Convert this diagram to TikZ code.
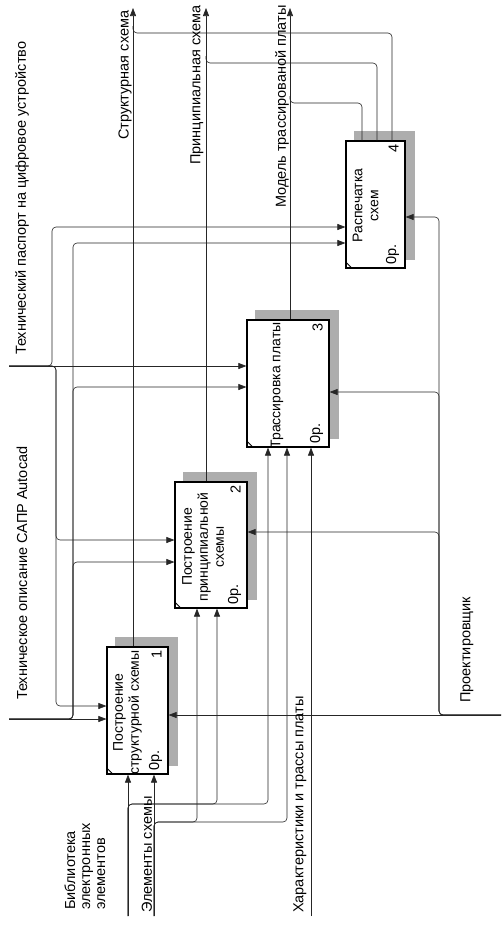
\documentclass[tikz,border=0pt]{standalone}
\usepackage{fontspec}
\setmainfont{Liberation Sans}
\usetikzlibrary{arrows.meta,backgrounds}

\tikzset{
  actbox/.style={draw, line width=1.2pt, fill=white, inner sep=0pt},
  shadowfill/.style={fill=black!32},
  flow/.style={line width=0.6pt, black!85, rounded corners=4pt},
  arr/.style={-{Triangle[length=8pt,width=6pt]}},
  lbl/.style={rotate=90, inner sep=0pt, font=\fontsize{14.5}{15}\selectfont, align=left},
  boxtxt/.style={rotate=90, inner sep=0pt, font=\fontsize{14}{16}\selectfont, align=center}
}

\begin{document}
\begin{tikzpicture}[x=1pt, y=-1pt]
\useasboundingbox (0,0) rectangle (501,926);

% activity boxes
\node[actbox, minimum width=61pt, minimum height=127pt] (b1) at (137.5,710.5) {};
\node[actbox, minimum width=72pt, minimum height=126pt] (b2) at (211,545) {};
\node[actbox, minimum width=82pt, minimum height=127pt] (b3) at (288,383.5) {};
\node[actbox, minimum width=59pt, minimum height=127pt] (b4) at (375.5,204.5) {};

\begin{scope}[on background layer]
  \fill[white] (0,0) rectangle (501,926);
  \foreach \b in {b1,b2,b3,b4}
    \fill[shadowfill] ([shift={(9,-9)}]\b.south west) rectangle ([shift={(9,-9)}]\b.north east);
\end{scope}

\foreach \b/\n in {b1/1,b2/2,b3/3,b4/4} {
  \draw[line width=0.8pt] ([yshift=7pt]\b.south west) -- ([xshift=7pt]\b.south west);
  \node[lbl, anchor=west] at ([shift={(-13,-4)}]\b.south east) {0р.};
  \node[lbl, anchor=east] at ([shift={(-12,4)}]\b.north east) {\n};
}

\node[boxtxt] at ([shift={(-10,2)}]b1.center) {Построение\\структурной схемы};
\node[boxtxt] at ([shift={(-8,2)}]b2.center) {Построение\\принципиальной\\схемы};
\node[boxtxt] at ([shift={(-11,2)}]b3.center) {Трассировка платы};
\node[boxtxt] at ([shift={(-10,1)}]b4.center) {Распечатка\\схем};

% sources and branch points
\coordinate (lib) at (128,916);
\coordinate (elem) at (154,916);
\coordinate (chr) at (311,916);
\coordinate (libk) at (128,804);
\coordinate (elk) at (154,822);
\coordinate (pass) at (9,366);
\coordinate (passu) at (52,366);
\coordinate (passd) at (56,366);
\coordinate (desc) at (9,719);
\coordinate (desck) at (73,719);
\coordinate (mech) at (501,715);
\coordinate (mechk) at (439,715);
\coordinate (out1) at (133,8);
\coordinate (out2) at (206,8);
\coordinate (out3) at (290,8);

% inputs
\draw[flow,arr] (lib) -- (lib |- b1.south);
\draw[flow,arr] (lib) -- (libk) -| ([xshift=6pt]b2.south);
\draw[flow,arr] (lib) -- (libk) -| ([xshift=-20pt]b3.south);
\draw[flow,arr] (elem) -- (elem |- b1.south);
\draw[flow,arr] (elem) -- (elk) -| ([xshift=-14pt]b2.south);
\draw[flow,arr] (elem) -- (elk) -| ([xshift=-1pt]b3.south);
\draw[flow,arr] (chr) -- (chr |- b3.south);

% controls
\draw[flow,arr] (pass) -- (pass -| b3.west);
\draw[flow,arr] (pass) -- (passu) |- (b4.west |- 0,227);
\draw[flow,arr] (pass) -- (passd) |- (b2.west |- 0,540);
\draw[flow,arr] (pass) -- (passd) |- (b1.west |- 0,706);
\draw[flow,arr] (desc) -- (desc -| b1.west);
\draw[flow,arr] (desc) -- (desck) |- (b3.west |- 0,387);
\draw[flow,arr] (desc) -- (desck) |- (b2.west |- 0,562);
\draw[flow,arr] (desc) -- (desck) |- (b4.west |- 0,243);

% mechanisms
\draw[flow,arr] (mech) -- (mech -| b1.east);
\draw[flow,arr] (mech) -- (mechk) |- (b2.east |- 0,532);
\draw[flow,arr] (mech) -- (mechk) |- (b3.east |- 0,392);
\draw[flow,arr] (mech) -- (mechk) |- (b4.east |- 0,217);

% outputs
\draw[flow,arr] (out1 |- b1.north) -- (out1);
\draw[flow,arr] (out2 |- b2.north) -- (out2);
\draw[flow,arr] (out3 |- b3.north) -- (out3);
\draw[flow] (133,26) -- (133,33) -| (b4.north -| 392,0);
\draw[flow] (206,56) -- (206,63) -| (b4.north -| 377,0);
\draw[flow] (290,96) -- (290,103) -| (b4.north -| 362,0);

% arrow labels
\node[lbl, anchor=west] at (22,355) {Технический паспорт на цифровое устройство};
\node[lbl, anchor=west] at (22,700) {Техническое описание САПР Autocad};
\node[lbl, anchor=west] at (85,910) {Библиотека\\электронных\\элементов};
\node[lbl, anchor=west] at (147,913) {Элементы схемы};
\node[lbl, anchor=west] at (300,913) {Характеристики и трассы платы};
\node[lbl, anchor=west] at (467,703) {Проектировщик};
\node[lbl, anchor=west] at (125,140) {Структурная схема};
\node[lbl, anchor=west] at (197,165) {Принципиальная схема};
\node[lbl, anchor=west] at (282,208) {Модель трассированой платы};
\end{tikzpicture}
\end{document}
